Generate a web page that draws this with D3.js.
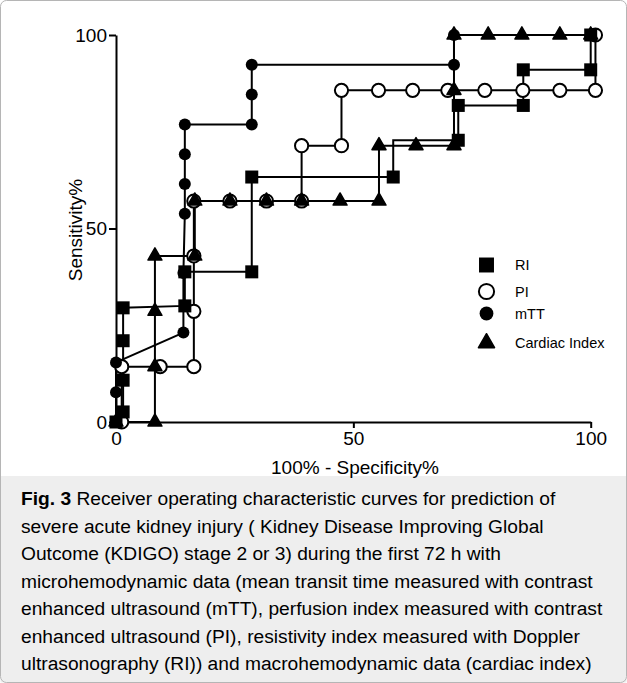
<!DOCTYPE html>
<html>
<head>
<meta charset="utf-8">
<script src="https://cdn.jsdelivr.net/npm/d3@7"></script>
<style>
  body { margin: 0; background: #fff; }
  svg { display: block; }
  text { font-family: "Liberation Sans", Arial, sans-serif; fill: #000; }
</style>
</head>
<body>
<div id="chart"></div>
<script>
// ROC points (x = 100% - specificity, y = sensitivity)
const riX   = [0, 1.5, 1.5, 1.5, 1.5, 14.5, 14.5, 28.6, 28.6, 58.4, 58.4, 72.1, 72.1, 85.8, 85.8, 100, 100];
const riY   = [0, 2.6, 10.8, 21, 29.5, 30, 38.8, 38.8, 63.3, 63.3, 72.8, 72.8, 81.8, 81.8, 91, 91, 100];
const riNoMarker = [10];

const piX   = [1.2, 1.2, 9.3, 16.4, 16.4, 16.4, 16.4, 24, 31.7, 39.1, 39.1, 47.5, 47.5, 55.3, 62.5, 69.9, 77.7, 85.7, 93.5, 101, 101];
const piY   = [0, 14.3, 14.3, 14.3, 28.6, 42.9, 57.1, 57.1, 57.1, 57.1, 71.4, 71.4, 85.7, 85.7, 85.7, 85.7, 85.7, 85.7, 85.7, 85.7, 100];

const mttX  = [0, 0, 0, 14.2, 14.2, 14.5, 14.5, 14.5, 14.5, 28.6, 28.6, 28.6, 71.2, 71.2, 100];
const mttY  = [0, 7.7, 15.4, 23.1, 38.5, 53.8, 61.5, 69.2, 76.9, 76.9, 84.6, 92.3, 92.3, 100, 100];

const ciX   = [0, 8.2, 8.2, 8.2, 8.2, 16.6, 16.6, 24, 31.7, 39.1, 47.2, 55.4, 55.4, 63.2, 71.2, 71.2, 71.2, 78.4, 85.5, 93.5, 100];
const ciY   = [0, 0, 14.3, 28.6, 42.9, 42.9, 57.1, 57.1, 57.1, 57.1, 57.1, 57.1, 71.4, 71.4, 71.4, 85.7, 100, 100, 100, 100, 100];

const xTicks = [0, 50, 100];
const yTicks = [0, 50, 100];
const legendNames = ["RI", "PI", "mTT", "Cardiac Index"];

const captionLines = [
  "Receiver operating characteristic curves for prediction of",
  "severe acute kidney injury ( Kidney Disease Improving Global",
  "Outcome (KDIGO) stage 2 or 3) during the first 72 h with",
  "microhemodynamic data (mean transit time measured with contrast",
  "enhanced ultrasound (mTT), perfusion index measured with contrast",
  "enhanced ultrasound (PI), resistivity index measured with Doppler",
  "ultrasonography (RI)) and macrohemodynamic data (cardiac index)"
];

const W = 627, H = 683;
const svg = d3.select("#chart").append("svg")
    .attr("width", W)
    .attr("height", H);

// caption panel + frame
svg.append("rect")
    .attr("x", 0.5).attr("y", 476).attr("width", W - 1).attr("height", H - 476.5)
    .attr("fill", "#eeeeee");
svg.append("rect")
    .attr("x", 0.5).attr("y", 0.5).attr("width", W - 1).attr("height", H - 1)
    .attr("rx", 6)
    .attr("fill", "none").attr("stroke", "#b5b5b5");

const x = d3.scaleLinear().domain([0, 100]).range([116, 590.7]);
const y = d3.scaleLinear().domain([0, 100]).range([422, 35]);

// axes
const yAxis = svg.append("g")
    .attr("transform", `translate(${x(0)},0)`)
    .call(d3.axisLeft(y).tickValues(yTicks).tickSize(7).tickPadding(2).tickSizeOuter(0));
const xAxis = svg.append("g")
    .attr("transform", `translate(0,${y(0)})`)
    .call(d3.axisBottom(x).tickValues(xTicks).tickSize(6).tickPadding(4).tickSizeOuter(0));

[xAxis, yAxis].forEach(g => {
  g.select(".domain").attr("stroke", "#000").attr("stroke-width", 2);
  g.selectAll(".tick line").attr("stroke", "#000").attr("stroke-width", 2);
  g.selectAll(".tick text")
      .style("font-family", '"Liberation Sans", Arial, sans-serif')
      .style("font-size", "19px")
      .attr("fill", "#000");
});

svg.append("text")
    .attr("x", 355).attr("y", 474)
    .attr("text-anchor", "middle")
    .style("font-size", "19px")
    .text("100% - Specificity%");

svg.append("text")
    .attr("transform", "translate(82,230) rotate(-90)")
    .attr("text-anchor", "middle")
    .style("font-size", "19px")
    .text("Sensitivity%");

// series
const toPts = (xs, ys) => xs.map((v, i) => ({ x: v, y: ys[i], i }));
const series = [
  { name: "PI",  pts: toPts(piX, piY),  shape: "openCircle" },
  { name: "mTT", pts: toPts(mttX, mttY), shape: "dot" },
  { name: "Cardiac Index", pts: toPts(ciX, ciY), shape: "triangle" },
  { name: "RI",  pts: toPts(riX, riY),  shape: "square", skip: riNoMarker }
];

const line = d3.line().x(d => x(d.x)).y(d => y(d.y));

function drawMarker(g, shape, big) {
  const k = big ? 1.15 : 1;
  if (shape === "square") {
    g.append("rect").attr("x", -6.5 * k).attr("y", -6.5 * k)
        .attr("width", 13 * k).attr("height", 13 * k).attr("fill", "#000");
  } else if (shape === "openCircle") {
    g.append("circle").attr("r", 6.6 * k).attr("fill", "#fff")
        .attr("stroke", "#000").attr("stroke-width", 2);
  } else if (shape === "dot") {
    g.append("circle").attr("r", 6 * k).attr("fill", "#000");
  } else {
    g.append("path").attr("d", d3.symbol(d3.symbolTriangle, 85 * k * k)())
        .attr("fill", "#000").attr("stroke", "#000")
        .attr("stroke-width", 1.5).attr("stroke-linejoin", "round");
  }
}

series.forEach(s => {
  svg.append("path")
      .datum(s.pts)
      .attr("d", line)
      .attr("fill", "none")
      .attr("stroke", "#000")
      .attr("stroke-width", 2);
});

series.forEach(s => {
  s.pts.filter(d => !(s.skip || []).includes(d.i)).forEach(d => {
    const g = svg.append("g").attr("transform", `translate(${x(d.x)},${y(d.y)})`);
    drawMarker(g, s.shape, false);
  });
});

// legend
const legendShapes = { "RI": "square", "PI": "openCircle", "mTT": "dot", "Cardiac Index": "triangle" };
const legendY = [265, 291.5, 313.5, 343];
legendNames.forEach((n, i) => {
  const g = svg.append("g").attr("transform", `translate(486.5,${legendY[i]})`);
  drawMarker(g, legendShapes[n], true);
  svg.append("text")
      .attr("x", 515).attr("y", legendY[i])
      .attr("dy", "0.35em")
      .style("font-size", "14.5px")
      .text(n);
});

// caption
const cap = svg.append("text")
    .attr("x", 21)
    .style("font-size", "19.2px");
captionLines.forEach((t, i) => {
  const ts = cap.append("tspan").attr("x", 21).attr("y", 505 + i * 27.5);
  if (i === 0) {
    ts.append("tspan").style("font-weight", "bold").text("Fig. 3");
    ts.append("tspan").text(" " + t);
  } else {
    ts.text(t);
  }
});
</script>
</body>
</html>
